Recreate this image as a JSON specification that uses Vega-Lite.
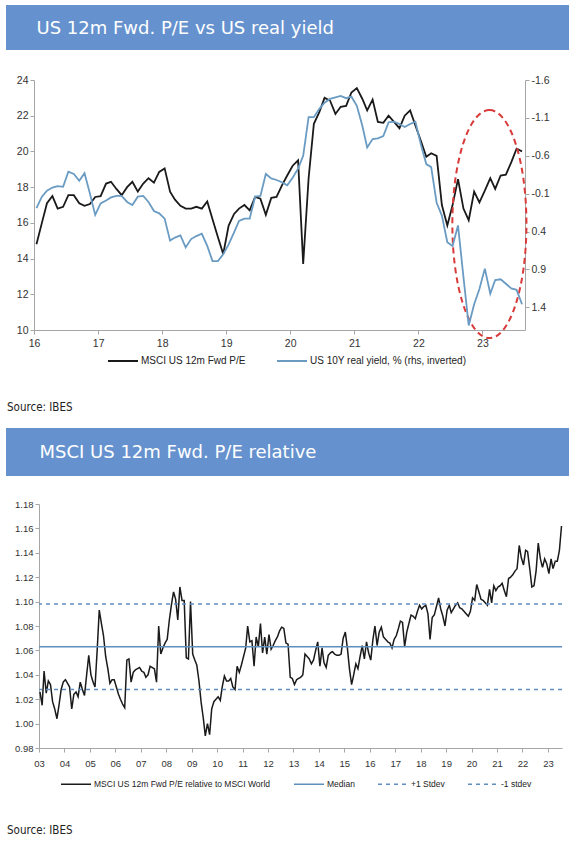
{
"$schema": "https://vega.github.io/schema/vega-lite/v6.json",
"padding": {"left": 6, "top": 5, "right": 0, "bottom": 0},
"background": "white",
"config": {
  "view": {"stroke": null},
  "axis": {"grid": false, "domainColor": "#A6A6A6", "tickColor": "#A6A6A6", "labelColor": "#333333", "labelFont": "Liberation Sans", "labelFontSize": 10, "tickSize": 4, "labelOverlap": false}
},
"datasets": {
  "pe": [
    {"d":"2016-01-15","v":14.8},{"d":"2016-02-15","v":16.0},{"d":"2016-03-15","v":17.1},{"d":"2016-04-15","v":17.5},{"d":"2016-05-15","v":16.8},{"d":"2016-06-15","v":16.9},{"d":"2016-07-15","v":17.55},{"d":"2016-08-15","v":17.55},{"d":"2016-09-15","v":17.1},{"d":"2016-10-15","v":16.95},{"d":"2016-11-15","v":17.05},{"d":"2016-12-15","v":17.45},
    {"d":"2017-01-15","v":17.5},{"d":"2017-02-15","v":18.2},{"d":"2017-03-15","v":18.3},{"d":"2017-04-15","v":17.9},{"d":"2017-05-15","v":17.55},{"d":"2017-06-15","v":18.0},{"d":"2017-07-15","v":18.3},{"d":"2017-08-15","v":17.75},{"d":"2017-09-15","v":18.2},{"d":"2017-10-15","v":18.5},{"d":"2017-11-15","v":18.25},{"d":"2017-12-15","v":18.85},
    {"d":"2018-01-15","v":19.05},{"d":"2018-02-15","v":17.75},{"d":"2018-03-15","v":17.3},{"d":"2018-04-15","v":16.95},{"d":"2018-05-15","v":16.8},{"d":"2018-06-15","v":16.8},{"d":"2018-07-15","v":16.9},{"d":"2018-08-15","v":16.8},{"d":"2018-09-15","v":17.2},{"d":"2018-10-15","v":16.2},{"d":"2018-11-15","v":15.2},{"d":"2018-12-15","v":14.25},
    {"d":"2019-01-15","v":15.85},{"d":"2019-02-15","v":16.5},{"d":"2019-03-15","v":16.8},{"d":"2019-04-15","v":17.0},{"d":"2019-05-15","v":16.7},{"d":"2019-06-15","v":17.45},{"d":"2019-07-15","v":17.35},{"d":"2019-08-15","v":16.45},{"d":"2019-09-15","v":17.4},{"d":"2019-10-15","v":17.45},{"d":"2019-11-15","v":18.1},{"d":"2019-12-15","v":18.65},
    {"d":"2020-01-15","v":19.2},{"d":"2020-02-15","v":19.5},{"d":"2020-03-15","v":13.7},{"d":"2020-04-15","v":18.5},{"d":"2020-05-15","v":21.55},{"d":"2020-06-15","v":22.2},{"d":"2020-07-15","v":23.0},{"d":"2020-08-15","v":22.85},{"d":"2020-09-15","v":22.1},{"d":"2020-10-15","v":22.5},{"d":"2020-11-15","v":22.55},{"d":"2020-12-15","v":23.3},
    {"d":"2021-01-15","v":23.55},{"d":"2021-02-15","v":22.95},{"d":"2021-03-15","v":22.3},{"d":"2021-04-15","v":22.9},{"d":"2021-05-15","v":21.65},{"d":"2021-06-15","v":21.6},{"d":"2021-07-15","v":22.0},{"d":"2021-08-15","v":21.65},{"d":"2021-09-15","v":21.3},{"d":"2021-10-15","v":22.0},{"d":"2021-11-15","v":22.3},{"d":"2021-12-15","v":21.45},
    {"d":"2022-01-15","v":20.6},{"d":"2022-02-15","v":19.7},{"d":"2022-03-15","v":19.9},{"d":"2022-04-15","v":19.75},{"d":"2022-05-15","v":17.0},{"d":"2022-06-15","v":15.85},{"d":"2022-07-15","v":17.0},{"d":"2022-08-15","v":18.45},{"d":"2022-09-15","v":16.8},{"d":"2022-10-15","v":16.15},{"d":"2022-11-15","v":17.75},{"d":"2022-12-15","v":17.15},
    {"d":"2023-01-15","v":17.8},{"d":"2023-02-15","v":18.5},{"d":"2023-03-15","v":17.9},{"d":"2023-04-15","v":18.65},{"d":"2023-05-15","v":18.7},{"d":"2023-06-15","v":19.4},{"d":"2023-07-15","v":20.15},{"d":"2023-08-15","v":20.0}
  ],
  "ry": [
    {"d":"2016-01-15","v":0.09},{"d":"2016-02-15","v":-0.06},{"d":"2016-03-15","v":-0.14},{"d":"2016-04-15","v":-0.18},{"d":"2016-05-15","v":-0.2},{"d":"2016-06-15","v":-0.19},{"d":"2016-07-15","v":-0.39},{"d":"2016-08-15","v":-0.36},{"d":"2016-09-15","v":-0.27},{"d":"2016-10-15","v":-0.37},{"d":"2016-11-15","v":-0.1},{"d":"2016-12-15","v":0.18},
    {"d":"2017-01-15","v":0.03},{"d":"2017-02-15","v":-0.01},{"d":"2017-03-15","v":-0.05},{"d":"2017-04-15","v":-0.07},{"d":"2017-05-15","v":-0.07},{"d":"2017-06-15","v":0.01},{"d":"2017-07-15","v":0.05},{"d":"2017-08-15","v":-0.06},{"d":"2017-09-15","v":-0.07},{"d":"2017-10-15","v":0.01},{"d":"2017-11-15","v":0.13},{"d":"2017-12-15","v":0.16},
    {"d":"2018-01-15","v":0.23},{"d":"2018-02-15","v":0.52},{"d":"2018-03-15","v":0.48},{"d":"2018-04-15","v":0.45},{"d":"2018-05-15","v":0.61},{"d":"2018-06-15","v":0.5},{"d":"2018-07-15","v":0.46},{"d":"2018-08-15","v":0.43},{"d":"2018-09-15","v":0.59},{"d":"2018-10-15","v":0.79},{"d":"2018-11-15","v":0.79},{"d":"2018-12-15","v":0.7},
    {"d":"2019-01-15","v":0.57},{"d":"2019-02-15","v":0.41},{"d":"2019-03-15","v":0.26},{"d":"2019-04-15","v":0.23},{"d":"2019-05-15","v":0.23},{"d":"2019-06-15","v":-0.06},{"d":"2019-07-15","v":-0.07},{"d":"2019-08-15","v":-0.36},{"d":"2019-09-15","v":-0.3},{"d":"2019-10-15","v":-0.28},{"d":"2019-11-15","v":-0.25},{"d":"2019-12-15","v":-0.21},
    {"d":"2020-01-15","v":-0.31},{"d":"2020-02-15","v":-0.43},{"d":"2020-03-15","v":-0.6},{"d":"2020-04-15","v":-1.11},{"d":"2020-05-15","v":-1.11},{"d":"2020-06-15","v":-1.22},{"d":"2020-07-15","v":-1.3},{"d":"2020-08-15","v":-1.35},{"d":"2020-09-15","v":-1.37},{"d":"2020-10-15","v":-1.39},{"d":"2020-11-15","v":-1.36},{"d":"2020-12-15","v":-1.38},
    {"d":"2021-01-15","v":-1.26},{"d":"2021-02-15","v":-1.0},{"d":"2021-03-15","v":-0.71},{"d":"2021-04-15","v":-0.82},{"d":"2021-05-15","v":-0.83},{"d":"2021-06-15","v":-0.86},{"d":"2021-07-15","v":-1.04},{"d":"2021-08-15","v":-1.05},{"d":"2021-09-15","v":-1.02},{"d":"2021-10-15","v":-0.98},{"d":"2021-11-15","v":-1.02},{"d":"2021-12-15","v":-1.05},
    {"d":"2022-01-15","v":-0.75},{"d":"2022-02-15","v":-0.49},{"d":"2022-03-15","v":-0.45},{"d":"2022-04-15","v":0.02},{"d":"2022-05-15","v":0.19},{"d":"2022-06-15","v":0.54},{"d":"2022-07-15","v":0.59},{"d":"2022-08-15","v":0.32},{"d":"2022-09-15","v":1.0},{"d":"2022-10-15","v":1.64},{"d":"2022-11-15","v":1.36},{"d":"2022-12-15","v":1.16},
    {"d":"2023-01-15","v":0.89},{"d":"2023-02-15","v":1.22},{"d":"2023-03-15","v":1.04},{"d":"2023-04-15","v":1.03},{"d":"2023-05-15","v":1.09},{"d":"2023-06-15","v":1.15},{"d":"2023-07-15","v":1.17},{"d":"2023-08-15","v":1.36}
  ],
  "ann": [{"d":"2023-02-10","v":15.93}],
  "levels": [{"name":"Median","v":1.063},{"name":"+1 Stdev","v":1.098},{"name":"-1 stdev","v":1.028}],
  "rel": [
    {"d":"2003-01-15","v":1.026},{"d":"2003-02-15","v":1.015},{"d":"2003-03-15","v":1.043},{"d":"2003-04-15","v":1.025},{"d":"2003-05-15","v":1.035},{"d":"2003-06-15","v":1.032},{"d":"2003-07-15","v":1.018},{"d":"2003-08-15","v":1.012},{"d":"2003-09-15","v":1.004},{"d":"2003-10-15","v":1.015},{"d":"2003-11-15","v":1.028},{"d":"2003-12-15","v":1.034},
    {"d":"2004-01-15","v":1.036},{"d":"2004-02-15","v":1.033},{"d":"2004-03-15","v":1.03},{"d":"2004-04-15","v":1.012},{"d":"2004-05-15","v":1.024},{"d":"2004-06-15","v":1.026},{"d":"2004-07-15","v":1.022},{"d":"2004-08-15","v":1.034},{"d":"2004-09-15","v":1.028},{"d":"2004-10-15","v":1.023},{"d":"2004-11-15","v":1.04},{"d":"2004-12-15","v":1.056},
    {"d":"2005-01-15","v":1.04},{"d":"2005-02-15","v":1.034},{"d":"2005-03-15","v":1.03},{"d":"2005-04-15","v":1.06},{"d":"2005-05-15","v":1.093},{"d":"2005-06-15","v":1.082},{"d":"2005-07-15","v":1.072},{"d":"2005-08-15","v":1.055},{"d":"2005-09-15","v":1.045},{"d":"2005-10-15","v":1.033},{"d":"2005-11-15","v":1.036},{"d":"2005-12-15","v":1.036},
    {"d":"2006-01-15","v":1.03},{"d":"2006-02-15","v":1.024},{"d":"2006-03-15","v":1.02},{"d":"2006-04-15","v":1.016},{"d":"2006-05-15","v":1.013},{"d":"2006-06-15","v":1.052},{"d":"2006-07-15","v":1.053},{"d":"2006-08-15","v":1.034},{"d":"2006-09-15","v":1.042},{"d":"2006-10-15","v":1.044},{"d":"2006-11-15","v":1.045},{"d":"2006-12-15","v":1.046},
    {"d":"2007-01-15","v":1.043},{"d":"2007-02-15","v":1.042},{"d":"2007-03-15","v":1.038},{"d":"2007-04-15","v":1.04},{"d":"2007-05-15","v":1.047},{"d":"2007-06-15","v":1.046},{"d":"2007-07-15","v":1.045},{"d":"2007-08-15","v":1.034},{"d":"2007-09-15","v":1.08},{"d":"2007-10-15","v":1.057},{"d":"2007-11-15","v":1.062},{"d":"2007-12-15","v":1.066},
    {"d":"2008-01-15","v":1.069},{"d":"2008-02-15","v":1.085},{"d":"2008-03-15","v":1.097},{"d":"2008-04-15","v":1.108},{"d":"2008-05-15","v":1.102},{"d":"2008-06-15","v":1.085},{"d":"2008-07-15","v":1.112},{"d":"2008-08-15","v":1.101},{"d":"2008-09-15","v":1.101},{"d":"2008-10-15","v":1.054},{"d":"2008-11-15","v":1.053},{"d":"2008-12-15","v":1.1},
    {"d":"2009-01-15","v":1.057},{"d":"2009-02-15","v":1.052},{"d":"2009-03-15","v":1.048},{"d":"2009-04-15","v":1.035},{"d":"2009-05-15","v":1.018},{"d":"2009-06-15","v":1.005},{"d":"2009-07-15","v":0.99},{"d":"2009-08-15","v":1.0},{"d":"2009-09-15","v":0.991},{"d":"2009-10-15","v":1.012},{"d":"2009-11-15","v":1.018},{"d":"2009-12-15","v":1.02},
    {"d":"2010-01-15","v":1.022},{"d":"2010-02-15","v":1.019},{"d":"2010-03-15","v":1.03},{"d":"2010-04-15","v":1.039},{"d":"2010-05-15","v":1.035},{"d":"2010-06-15","v":1.035},{"d":"2010-07-15","v":1.037},{"d":"2010-08-15","v":1.03},{"d":"2010-09-15","v":1.028},{"d":"2010-10-15","v":1.047},{"d":"2010-11-15","v":1.042},{"d":"2010-12-15","v":1.048},
    {"d":"2011-01-15","v":1.055},{"d":"2011-02-15","v":1.062},{"d":"2011-03-15","v":1.08},{"d":"2011-04-15","v":1.067},{"d":"2011-05-15","v":1.068},{"d":"2011-06-15","v":1.047},{"d":"2011-07-15","v":1.071},{"d":"2011-08-15","v":1.063},{"d":"2011-09-15","v":1.082},{"d":"2011-10-15","v":1.058},{"d":"2011-11-15","v":1.071},{"d":"2011-12-15","v":1.057},
    {"d":"2012-01-15","v":1.073},{"d":"2012-02-15","v":1.061},{"d":"2012-03-15","v":1.064},{"d":"2012-04-15","v":1.068},{"d":"2012-05-15","v":1.071},{"d":"2012-06-15","v":1.076},{"d":"2012-07-15","v":1.079},{"d":"2012-08-15","v":1.078},{"d":"2012-09-15","v":1.066},{"d":"2012-10-15","v":1.065},{"d":"2012-11-15","v":1.038},{"d":"2012-12-15","v":1.037},
    {"d":"2013-01-15","v":1.032},{"d":"2013-02-15","v":1.036},{"d":"2013-03-15","v":1.037},{"d":"2013-04-15","v":1.038},{"d":"2013-05-15","v":1.04},{"d":"2013-06-15","v":1.057},{"d":"2013-07-15","v":1.055},{"d":"2013-08-15","v":1.053},{"d":"2013-09-15","v":1.049},{"d":"2013-10-15","v":1.052},{"d":"2013-11-15","v":1.06},{"d":"2013-12-15","v":1.067},
    {"d":"2014-01-15","v":1.047},{"d":"2014-02-15","v":1.062},{"d":"2014-03-15","v":1.05},{"d":"2014-04-15","v":1.046},{"d":"2014-05-15","v":1.056},{"d":"2014-06-15","v":1.058},{"d":"2014-07-15","v":1.059},{"d":"2014-08-15","v":1.057},{"d":"2014-09-15","v":1.056},{"d":"2014-10-15","v":1.056},{"d":"2014-11-15","v":1.057},{"d":"2014-12-15","v":1.07},
    {"d":"2015-01-15","v":1.075},{"d":"2015-02-15","v":1.061},{"d":"2015-03-15","v":1.045},{"d":"2015-04-15","v":1.032},{"d":"2015-05-15","v":1.04},{"d":"2015-06-15","v":1.049},{"d":"2015-07-15","v":1.045},{"d":"2015-08-15","v":1.055},{"d":"2015-09-15","v":1.064},{"d":"2015-10-15","v":1.053},{"d":"2015-11-15","v":1.067},{"d":"2015-12-15","v":1.058},
    {"d":"2016-01-15","v":1.052},{"d":"2016-02-15","v":1.069},{"d":"2016-03-15","v":1.08},{"d":"2016-04-15","v":1.064},{"d":"2016-05-15","v":1.075},{"d":"2016-06-15","v":1.079},{"d":"2016-07-15","v":1.071},{"d":"2016-08-15","v":1.069},{"d":"2016-09-15","v":1.067},{"d":"2016-10-15","v":1.066},{"d":"2016-11-15","v":1.062},{"d":"2016-12-15","v":1.069},
    {"d":"2017-01-15","v":1.072},{"d":"2017-02-15","v":1.078},{"d":"2017-03-15","v":1.084},{"d":"2017-04-15","v":1.083},{"d":"2017-05-15","v":1.063},{"d":"2017-06-15","v":1.075},{"d":"2017-07-15","v":1.082},{"d":"2017-08-15","v":1.089},{"d":"2017-09-15","v":1.088},{"d":"2017-10-15","v":1.086},{"d":"2017-11-15","v":1.092},{"d":"2017-12-15","v":1.097},
    {"d":"2018-01-15","v":1.094},{"d":"2018-02-15","v":1.096},{"d":"2018-03-15","v":1.097},{"d":"2018-04-15","v":1.09},{"d":"2018-05-15","v":1.069},{"d":"2018-06-15","v":1.087},{"d":"2018-07-15","v":1.089},{"d":"2018-08-15","v":1.096},{"d":"2018-09-15","v":1.103},{"d":"2018-10-15","v":1.094},{"d":"2018-11-15","v":1.088},{"d":"2018-12-15","v":1.08},
    {"d":"2019-01-15","v":1.093},{"d":"2019-02-15","v":1.097},{"d":"2019-03-15","v":1.091},{"d":"2019-04-15","v":1.094},{"d":"2019-05-15","v":1.097},{"d":"2019-06-15","v":1.099},{"d":"2019-07-15","v":1.095},{"d":"2019-08-15","v":1.094},{"d":"2019-09-15","v":1.092},{"d":"2019-10-15","v":1.09},{"d":"2019-11-15","v":1.088},{"d":"2019-12-15","v":1.092},
    {"d":"2020-01-15","v":1.103},{"d":"2020-02-15","v":1.101},{"d":"2020-03-15","v":1.114},{"d":"2020-04-15","v":1.108},{"d":"2020-05-15","v":1.102},{"d":"2020-06-15","v":1.101},{"d":"2020-07-15","v":1.099},{"d":"2020-08-15","v":1.097},{"d":"2020-09-15","v":1.11},{"d":"2020-10-15","v":1.099},{"d":"2020-11-15","v":1.113},{"d":"2020-12-15","v":1.109},
    {"d":"2021-01-15","v":1.112},{"d":"2021-02-15","v":1.113},{"d":"2021-03-15","v":1.115},{"d":"2021-04-15","v":1.109},{"d":"2021-05-15","v":1.104},{"d":"2021-06-15","v":1.119},{"d":"2021-07-15","v":1.12},{"d":"2021-08-15","v":1.122},{"d":"2021-09-15","v":1.125},{"d":"2021-10-15","v":1.127},{"d":"2021-11-15","v":1.146},{"d":"2021-12-15","v":1.136},
    {"d":"2022-01-15","v":1.13},{"d":"2022-02-15","v":1.142},{"d":"2022-03-15","v":1.141},{"d":"2022-04-15","v":1.127},{"d":"2022-05-15","v":1.112},{"d":"2022-06-15","v":1.113},{"d":"2022-07-15","v":1.125},{"d":"2022-08-15","v":1.148},{"d":"2022-09-15","v":1.135},{"d":"2022-10-15","v":1.128},{"d":"2022-11-15","v":1.135},{"d":"2022-12-15","v":1.131},
    {"d":"2023-01-15","v":1.123},{"d":"2023-02-15","v":1.135},{"d":"2023-03-15","v":1.127},{"d":"2023-04-15","v":1.133},{"d":"2023-05-15","v":1.133},{"d":"2023-06-15","v":1.142},{"d":"2023-07-15","v":1.162}
  ],
  "hdr1": [{"a": 0}],
  "hdr2": [{"a": 0}]
},
"spacing": 14,
"resolve": {"scale": {"color": "independent", "strokeDash": "independent"}, "legend": {"color": "independent", "strokeDash": "independent"}},
"vconcat": [
  {
    "spacing": 25,
    "resolve": {"scale": {"color": "independent", "strokeDash": "independent"}, "legend": {"color": "independent", "strokeDash": "independent"}},
    "vconcat": [
      {
        "width": 563, "height": 45,
        "view": {"fill": "#6592CE", "stroke": null},
        "data": {"name": "hdr1"},
        "mark": {"type": "text", "text": ""},
        "encoding": {
          "x": {"field": "a", "type": "quantitative", "axis": {"orient": "top", "title": "US 12m Fwd. P/E vs US real yield", "titleX": 30, "titleY": 23, "titleAlign": "left", "titleAnchor": "start", "titleBaseline": "middle", "titleFont": "DejaVu Sans", "titleFontSize": 18, "titleFontWeight": "normal", "titleColor": "#FFFFFF", "labels": false, "ticks": false, "domain": false, "grid": false}}
        }
      },
      {
        "spacing": 0,
        "resolve": {"scale": {"color": "independent", "strokeDash": "independent"}, "legend": {"color": "independent", "strokeDash": "independent"}},
        "hconcat": [
          {"width": 1, "height": 1, "data": {"values": []}, "mark": {"type": "text", "text": ""}, "encoding": {}},
          {
            "width": 491, "height": 250,
            "title": {"text": "Source: IBES", "orient": "bottom", "anchor": "start", "frame": "group", "dx": -27, "offset": 36, "color": "#222222", "font": "DejaVu Sans Condensed", "fontSize": 11.5, "fontWeight": "normal"},
            "layer": [
              {
                "layer": [
                  {
                    "data": {"name": "pe"},
                    "mark": {"type": "line", "strokeWidth": 1.8},
                    "encoding": {
                      "x": {"field": "d", "type": "temporal", "title": null, "scale": {"type": "utc", "domain": ["2016-01-01", "2023-09-01"]}, "axis": {"format": "%y", "tickCount": {"interval": "year", "step": 1}, "labelFlush": false, "labelOverlap": false, "labelPadding": 4, "labelFontSize": 10.5}},
                      "y": {"field": "v", "type": "quantitative", "title": null, "scale": {"domain": [10, 24], "nice": false, "zero": false}, "axis": {"orient": "left", "values": [10, 12, 14, 16, 18, 20, 22, 24], "labelOverlap": false, "labelBound": false, "labelPadding": 2, "labelFontSize": 10.5}},
                      "color": {"datum": "MSCI US 12m Fwd P/E", "type": "nominal",
                        "scale": {"domain": ["MSCI US 12m Fwd P/E", "US 10Y real yield, % (rhs, inverted)"], "range": ["#1A1A1A", "#6A9BC3"]},
                        "legend": {"orient": "none", "legendX": 73, "legendY": 265, "direction": "horizontal", "title": null, "symbolType": "stroke", "symbolSize": 900, "symbolStrokeWidth": 2, "labelFont": "Liberation Sans", "labelFontSize": 10, "labelColor": "#222222", "labelLimit": 400, "columnPadding": 27, "labelOffset": 2, "padding": 0}}
                    }
                  },
                  {
                    "data": {"name": "ann"},
                    "mark": {"type": "point", "shape": "M0,-1C0.1793,-1,0.325,-0.5523,0.325,0C0.325,0.5523,0.1793,1,0,1C-0.1793,1,-0.325,0.5523,-0.325,0C-0.325,-0.5523,-0.1793,-1,0,-1Z", "size": 51984, "filled": false, "stroke": "#D93A3A", "strokeWidth": 2, "strokeDash": [6, 4], "opacity": 1},
                    "encoding": {
                      "x": {"field": "d", "type": "temporal", "title": null, "axis": {"format": "%y", "tickCount": {"interval": "year", "step": 1}, "labelFlush": false, "labelOverlap": false, "labelPadding": 4, "labelFontSize": 10.5}},
                      "y": {"field": "v", "type": "quantitative", "title": null, "axis": {"orient": "left", "values": [10, 12, 14, 16, 18, 20, 22, 24], "labelOverlap": false, "labelBound": false, "labelPadding": 2, "labelFontSize": 10.5}}
                    }
                  }
                ]
              },
              {
                "data": {"name": "ry"},
                "mark": {"type": "line", "strokeWidth": 1.8},
                "encoding": {
                  "x": {"field": "d", "type": "temporal", "title": null, "axis": {"format": "%y", "tickCount": {"interval": "year", "step": 1}, "labelFlush": false, "labelOverlap": false, "labelPadding": 4, "labelFontSize": 10.5}},
                  "y": {"field": "v", "type": "quantitative", "title": null, "scale": {"domain": [-1.6, 1.7], "reverse": true, "nice": false, "zero": false}, "axis": {"orient": "right", "values": [-1.6, -1.1, -0.6, -0.1, 0.4, 0.9, 1.4], "labelOverlap": false, "labelExpr": "(datum.value < 0 ? '-' : '') + format(abs(datum.value), '.1f')", "labelPadding": 2, "labelFontSize": 10.5}},
                  "color": {"datum": "US 10Y real yield, % (rhs, inverted)", "type": "nominal"}
                }
              }
            ],
            "resolve": {"scale": {"y": "independent"}}
          }
        ]
      }
    ]
  },
  {
    "spacing": 23,
    "resolve": {"scale": {"color": "independent", "strokeDash": "independent"}, "legend": {"color": "independent", "strokeDash": "independent"}},
    "vconcat": [
      {
        "width": 563, "height": 48,
        "view": {"fill": "#6592CE", "stroke": null},
        "data": {"name": "hdr2"},
        "mark": {"type": "text", "text": ""},
        "encoding": {
          "x": {"field": "a", "type": "quantitative", "axis": {"orient": "top", "title": "MSCI US 12m Fwd. P/E relative", "titleX": 33, "titleY": 24, "titleAlign": "left", "titleAnchor": "start", "titleBaseline": "middle", "titleFont": "DejaVu Sans", "titleFontSize": 18, "titleFontWeight": "normal", "titleColor": "#FFFFFF", "labels": false, "ticks": false, "domain": false, "grid": false}}
        }
      },
      {
        "spacing": 0,
        "resolve": {"scale": {"color": "independent", "strokeDash": "independent"}, "legend": {"color": "independent", "strokeDash": "independent"}},
        "hconcat": [
          {"width": 1, "height": 1, "data": {"values": []}, "mark": {"type": "text", "text": ""}, "encoding": {}},
          {
            "width": 523, "height": 244,
            "title": {"text": "Source: IBES", "orient": "bottom", "anchor": "start", "frame": "group", "dx": -32, "offset": 36, "color": "#222222", "font": "DejaVu Sans Condensed", "fontSize": 11.5, "fontWeight": "normal"},
            "layer": [
              {
                "data": {"name": "rel"},
                "mark": {"type": "line", "strokeWidth": 1.5},
                "encoding": {
                  "x": {"field": "d", "type": "temporal", "title": null, "scale": {"type": "utc", "domain": ["2003-01-01", "2023-07-22"]}, "axis": {"format": "%y", "tickCount": {"interval": "year", "step": 1}, "labelFlush": false, "labelOverlap": false, "labelPadding": 6, "labelFontSize": 9.5}},
                  "y": {"field": "v", "type": "quantitative", "title": null, "scale": {"domain": [0.98, 1.18], "nice": false, "zero": false}, "axis": {"values": [0.98, 1.0, 1.02, 1.04, 1.06, 1.08, 1.1, 1.12, 1.14, 1.16, 1.18], "format": ".2f", "labelOverlap": false, "labelBound": false, "labelFontSize": 9.5, "labelPadding": 2}},
                  "color": {"datum": "MSCI US 12m Fwd P/E relative to MSCI World", "type": "nominal",
                    "scale": {"domain": ["MSCI US 12m Fwd P/E relative to MSCI World", "Median", "+1 Stdev", "-1 stdev"], "range": ["#1A1A1A", "#5E8FBF", "#5E8FBF", "#5E8FBF"]},
                    "legend": {"orient": "none", "legendX": 21, "legendY": 264, "direction": "horizontal", "title": null, "symbolType": "stroke", "symbolSize": 900, "symbolStrokeWidth": 1.5, "labelFont": "Liberation Sans", "labelFontSize": 8.5, "labelColor": "#222222", "labelLimit": 400, "columnPadding": 20, "labelOffset": 2, "padding": 0}},
                  "strokeDash": {"datum": "MSCI US 12m Fwd P/E relative to MSCI World", "type": "nominal",
                    "scale": {"domain": ["MSCI US 12m Fwd P/E relative to MSCI World", "Median", "+1 Stdev", "-1 stdev"], "range": [[1, 0], [1, 0], [4, 4], [4, 4]]},
                    "legend": {"orient": "none", "legendX": 21, "legendY": 264, "direction": "horizontal", "title": null, "symbolType": "stroke", "symbolSize": 900, "symbolStrokeWidth": 1.5, "labelFont": "Liberation Sans", "labelFontSize": 8.5, "labelColor": "#222222", "labelLimit": 400, "columnPadding": 20, "labelOffset": 2, "padding": 0}}
                }
              },
              {
                "data": {"name": "levels"},
                "mark": {"type": "rule", "strokeWidth": 1.5},
                "encoding": {
                  "y": {"field": "v", "type": "quantitative", "title": null, "axis": {"values": [0.98, 1.0, 1.02, 1.04, 1.06, 1.08, 1.1, 1.12, 1.14, 1.16, 1.18], "format": ".2f", "labelOverlap": false, "labelBound": false, "labelFontSize": 9.5, "labelPadding": 2}},
                  "color": {"field": "name", "type": "nominal", "title": null},
                  "strokeDash": {"field": "name", "type": "nominal", "title": null}
                }
              }
            ]
          }
        ]
      }
    ]
  }
]
}
